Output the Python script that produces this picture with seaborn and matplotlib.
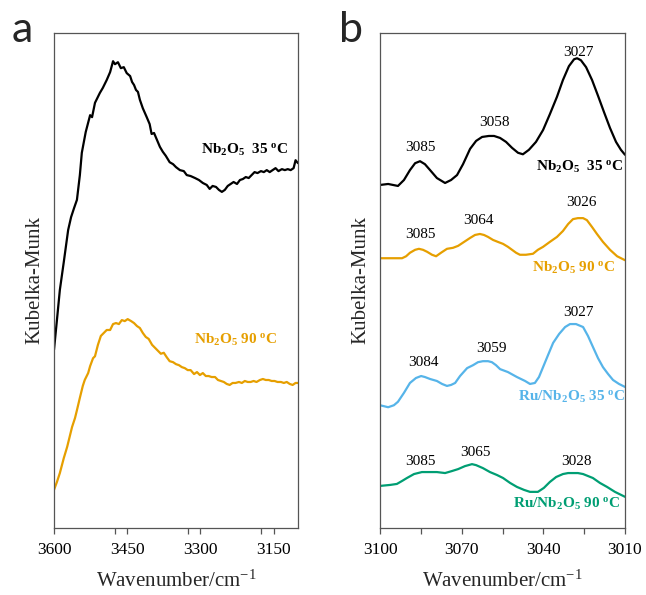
import numpy as np
import pandas as pd
import matplotlib
matplotlib.use("Agg")
import matplotlib.pyplot as plt
import seaborn as sns

# ---------------- data ----------------
# Panel a: broad O-H region (cm^-1, Kubelka-Munk, arbitrary units)
wn_a_35 = [3600, 3594, 3588, 3580, 3571, 3565, 3559, 3553, 3547, 3543, 3535, 3526, 3522,
           3516, 3506, 3500, 3492, 3485, 3479, 3475, 3469, 3463, 3457, 3451, 3444, 3440,
           3436, 3432, 3428, 3424, 3418, 3410, 3404, 3400, 3395, 3389, 3383, 3377, 3371,
           3363, 3356, 3350, 3342, 3334, 3328, 3320, 3311, 3303, 3295, 3287, 3281, 3275,
           3268, 3262, 3256, 3250, 3244, 3238, 3232, 3225, 3219, 3213, 3207, 3201, 3195,
           3189, 3183, 3176, 3170, 3164, 3158, 3152, 3146, 3140, 3133, 3127, 3121, 3115,
           3109, 3105, 3100]
km_a_35 = [36.0, 42.0, 48.1, 53.7, 60.2, 62.8, 64.6, 66.3, 71.3, 75.8, 80.0, 83.4, 83.0,
           85.9, 87.9, 88.9, 90.5, 92.1, 94.3, 93.7, 94.1, 92.9, 93.1, 91.9, 91.3, 90.1,
           89.5, 88.5, 88.1, 86.5, 84.8, 83.0, 81.6, 79.6, 79.8, 78.4, 77.0, 76.0, 75.2,
           73.9, 73.5, 72.9, 72.3, 72.1, 71.3, 71.1, 70.7, 70.3, 69.7, 69.3, 68.5, 69.1,
           68.9, 68.3, 67.9, 68.3, 69.1, 69.5, 69.9, 69.5, 70.3, 70.5, 70.9, 70.7, 71.3,
           71.9, 71.7, 72.1, 71.9, 72.3, 71.9, 72.3, 72.7, 72.1, 72.5, 72.3, 72.5, 72.3,
           72.7, 74.3, 73.7]

wn_a_90 = [3600, 3594, 3588, 3580, 3573, 3567, 3563, 3557, 3553, 3547, 3541, 3537, 3530,
           3526, 3520, 3516, 3510, 3504, 3498, 3492, 3485, 3479, 3473, 3467, 3461, 3455,
           3449, 3442, 3436, 3430, 3424, 3418, 3412, 3406, 3399, 3393, 3387, 3381, 3375,
           3369, 3363, 3356, 3350, 3344, 3338, 3332, 3326, 3320, 3313, 3307, 3301, 3295,
           3289, 3283, 3277, 3270, 3264, 3258, 3252, 3246, 3240, 3234, 3228, 3221, 3215,
           3209, 3203, 3197, 3191, 3185, 3178, 3172, 3166, 3160, 3154, 3148, 3142, 3135,
           3129, 3123, 3117, 3111, 3105, 3100]
km_a_90 = [7.7, 9.3, 11.1, 14.1, 16.4, 18.8, 20.4, 22.2, 23.8, 26.3, 28.7, 29.9, 31.3,
           32.7, 34.3, 34.7, 37.0, 38.8, 39.4, 40.0, 40.0, 41.2, 41.4, 41.2, 42.0, 41.8,
           42.2, 41.8, 41.4, 40.8, 40.4, 39.4, 38.6, 38.2, 37.0, 36.4, 35.8, 35.2, 35.4,
           34.5, 33.7, 33.5, 33.1, 32.9, 32.5, 32.3, 31.9, 31.9, 31.1, 31.5, 30.9, 31.3,
           30.7, 30.7, 30.5, 30.5, 29.9, 29.7, 29.5, 29.1, 28.9, 29.3, 29.3, 29.5, 29.3,
           29.7, 29.5, 29.5, 29.7, 29.5, 29.9, 30.1, 29.9, 29.9, 29.7, 29.7, 29.5, 29.5,
           29.3, 29.5, 29.1, 28.9, 29.3, 29.3]

# Panel b: C-H stretching region
wn_b_nb35 = [3100, 3097, 3093.4, 3091.2, 3089, 3087.1, 3085.3, 3083.5, 3081.6, 3079.1,
             3076.1, 3073.9, 3071.7, 3069.5, 3066.9, 3064.7, 3062.5, 3060, 3058.1, 3055.9,
             3053.7, 3051.5, 3049.3, 3047.5, 3045.3, 3042.7, 3040.1, 3037.6, 3035, 3032.8,
             3030.6, 3028.7, 3027.6, 3026.2, 3024.3, 3022.1, 3019.9, 3017.7, 3015.5,
             3013.3, 3011.5, 3010]
km_b_nb35 = [69.3, 69.5, 69.1, 70.3, 72.3, 73.7, 74.1, 73.5, 72.3, 70.7,
             69.7, 70.3, 71.3, 73.5, 76.6, 78.2, 79.0, 79.2, 79.2, 78.8,
             78.0, 76.8, 75.8, 75.5, 76.4, 78.0, 80.4, 83.6, 87.1, 90.5,
             93.3, 94.7, 94.9, 94.5, 93.1, 90.5, 87.3, 84.0, 80.8,
             78.0, 76.4, 75.4]

wn_b_nb90 = [3100, 3095.6, 3091.9, 3090.4, 3089, 3087.1, 3085.7, 3084.2, 3082.7, 3080.9,
             3079.4, 3077.6, 3075.4, 3073.2, 3071.3, 3069.1, 3066.9, 3065.1, 3063.3,
             3061.8, 3060.3, 3058.5, 3056.7, 3054.8, 3053, 3051.5, 3050, 3048.6, 3046.4,
             3043.8, 3042, 3040.1, 3037.6, 3035, 3032.8, 3030.9, 3029.1, 3027.3, 3025.4,
             3024, 3022.1, 3020.3, 3018.1, 3015.5, 3012.9, 3010]
km_b_nb90 = [54.5, 54.5, 54.5, 54.9, 55.6, 56.2, 56.4, 56.2, 55.8, 55.2,
             54.9, 55.6, 56.4, 56.6, 57.0, 57.8, 58.6, 59.2, 59.4,
             59.2, 58.8, 58.2, 57.8, 57.4, 56.8, 56.2, 55.6, 55.2, 55.2,
             55.4, 56.2, 56.8, 57.8, 58.8, 60.0, 61.4, 62.4, 62.6, 62.6,
             62.2, 60.8, 59.4, 57.8, 56.2, 54.9, 54.1]

wn_b_ru35 = [3100, 3097, 3094.9, 3093.4, 3091.2, 3089, 3086.8, 3084.9, 3083.5, 3081.6,
             3079.1, 3077.2, 3075.4, 3073.9, 3072.4, 3070.6, 3068, 3065.8, 3064, 3062.2,
             3060.3, 3058.9, 3057.4, 3055.9, 3053, 3049.7, 3046.7, 3044.9, 3043.1, 3041.6,
             3040.1, 3038.3, 3036.4, 3034.2, 3032, 3030.2, 3028, 3025.4, 3023.6, 3021.8,
             3019.9, 3018.1, 3016.2, 3014.4, 3012.2, 3010]
km_b_ru35 = [24.8, 24.4, 24.8, 25.5, 27.3, 29.3, 30.3, 30.7, 30.5, 30.1,
             29.7, 29.1, 28.7, 28.9, 29.3, 30.7, 32.3, 32.9, 33.5, 33.7,
             33.7, 33.5, 32.9, 32.1, 31.5, 30.5, 29.7, 29.1, 29.3, 30.5,
             32.5, 34.9, 37.4, 39.2, 40.6, 41.2, 41.2, 40.6, 38.8, 36.6,
             34.3, 32.5, 31.1, 29.9, 29.1, 28.5]

wn_b_ru90 = [3100, 3096.3, 3093.8, 3091.9, 3090.1, 3087.5, 3084.6, 3081.6, 3079.1, 3076.1,
             3073.6, 3071.3, 3068.8, 3066.2, 3064.7, 3062.2, 3059.6, 3057, 3054.8, 3052.2,
             3049.7, 3047.1, 3044.9, 3042, 3039.8, 3037.6, 3035.3, 3032.8, 3030.9, 3029.1,
             3027.3, 3025.4, 3023.6, 3021.8, 3019.2, 3016.6, 3013.7, 3010]
km_b_ru90 = [8.5, 8.7, 8.9, 9.5, 10.1, 10.9, 11.3, 11.3, 11.3, 11.1,
             11.5, 11.9, 12.5, 12.9, 12.7, 12.1, 11.3, 10.7, 10.1, 9.1,
             8.3, 7.7, 7.3, 7.3, 8.1, 9.3, 10.3, 10.9, 11.1, 11.1,
             11.1, 10.9, 10.5, 10.1, 9.1, 8.3, 7.3, 6.3]

# assigned band positions for each spectrum in panel b
peaks_nb35 = [3085, 3058, 3027]
peaks_nb90 = [3085, 3064, 3026]
peaks_ru35 = [3084, 3059, 3027]
peaks_ru90 = [3085, 3065, 3028]

ticks_a = [3600, 3450, 3300, 3150]
ticks_b = [3100, 3070, 3040, 3010]

# ---------------- style ----------------
sns.set_theme(style="white")
plt.rcParams["font.family"] = ["Liberation Serif", "DejaVu Serif"]
plt.rcParams["mathtext.fontset"] = "custom"
plt.rcParams["mathtext.rm"] = "Liberation Serif"
plt.rcParams["mathtext.it"] = "Liberation Serif:italic"
plt.rcParams["mathtext.bf"] = "Liberation Serif:bold"

BLACK = "#000000"
ORANGE = "#E69F00"
BLUE = "#56B4E9"
GREEN = "#009E73"
SPINE = "#555555"

fig = plt.figure(figsize=(6.46, 5.95), dpi=100)
ax_a = fig.add_axes([54 / 646, 1 - 528 / 595, 244 / 646, 495 / 595])
ax_b = fig.add_axes([380 / 646, 1 - 528 / 595, 245 / 646, 495 / 595])


def draw(ax, wn, km, color):
    df = pd.DataFrame({"wn": wn, "km": km})
    sns.lineplot(data=df, x="wn", y="km", color=color, lw=1.6, sort=False,
                 estimator=None, ax=ax)
    return df


def style_axes(ax, xmin, xmax, ticks, minor_step):
    ax.set_xlim(xmin, xmax)
    ax.set_ylim(0, 100)
    ax.set_xticks(ticks)
    ax.set_xticklabels([str(t) for t in ticks])
    ax.set_xticks(np.arange(xmax + minor_step, xmin, 2 * minor_step)[::-1], minor=True)
    ax.set_yticks([])
    for s in ax.spines.values():
        s.set_color(SPINE)
        s.set_linewidth(0.9)
    ax.tick_params(axis="x", which="both", direction="out", bottom=True, colors=SPINE,
                   length=4, width=0.9, labelcolor="black", labelsize=12.5, pad=6)
    ax.set_xlabel("Wavenumber/cm$^{-1}$", fontsize=15, labelpad=9)
    ax.set_ylabel("Kubelka-Munk", fontsize=15, labelpad=7)


def tag(ax, x, y, name, temp, color):
    ax.text(x, y, r"$\mathbf{" + name + "}$" + temp + r" $^{\mathbf{o}}$C",
            color=color, fontsize=11, fontweight="bold", ha="right", va="center")


def label_peaks(ax, df, peaks, color="black", dy=None):
    xs = df["wn"].to_numpy()[::-1]
    ys = df["km"].to_numpy()[::-1]
    for i, p in enumerate(peaks):
        yv = np.interp(p, xs, ys)
        off = 10 if dy is None else dy[i]
        ax.annotate(str(p), (p, yv), xytext=(0, off), textcoords="offset points",
                    ha="center", va="center", fontsize=11, color=color)


# panel a
draw(ax_a, wn_a_35, km_a_35, BLACK)
draw(ax_a, wn_a_90, km_a_90, ORANGE)
style_axes(ax_a, 3600, 3100, ticks_a, 75)
tag(ax_a, 3119, 76.4, "Nb_2O_5", "  35", BLACK)
tag(ax_a, 3142, 38.0, "Nb_2O_5", " 90", ORANGE)

# panel b
d1 = draw(ax_b, wn_b_nb35, km_b_nb35, BLACK)
d2 = draw(ax_b, wn_b_nb90, km_b_nb90, ORANGE)
d3 = draw(ax_b, wn_b_ru35, km_b_ru35, BLUE)
d4 = draw(ax_b, wn_b_ru90, km_b_ru90, GREEN)
style_axes(ax_b, 3100, 3010, ticks_b, 15)
label_peaks(ax_b, d1, peaks_nb35, dy=[10, 10, 5])
label_peaks(ax_b, d2, peaks_nb90, dy=[11, 10, 11])
label_peaks(ax_b, d3, peaks_ru35, dy=[10, 10, 9])
label_peaks(ax_b, d4, peaks_ru90, dy=[8, 9, 8])
tag(ax_b, 3010.7, 72.9, "Nb_2O_5", "  35", BLACK)
tag(ax_b, 3013.5, 52.5, "Nb_2O_5", " 90", ORANGE)
tag(ax_b, 3010.0, 26.5, "Ru/Nb_2O_5", " 35", BLUE)
tag(ax_b, 3011.8, 4.8, "Ru/Nb_2O_5", " 90", GREEN)

# panel letters
fig.text(12 / 646, 1 - 42 / 595, "a", family="Lato", fontsize=31, ha="left", va="baseline")
fig.text(339 / 646, 1 - 42 / 595, "b", family="Lato", fontsize=31, ha="left", va="baseline")

fig.savefig("out.png", dpi=100)
